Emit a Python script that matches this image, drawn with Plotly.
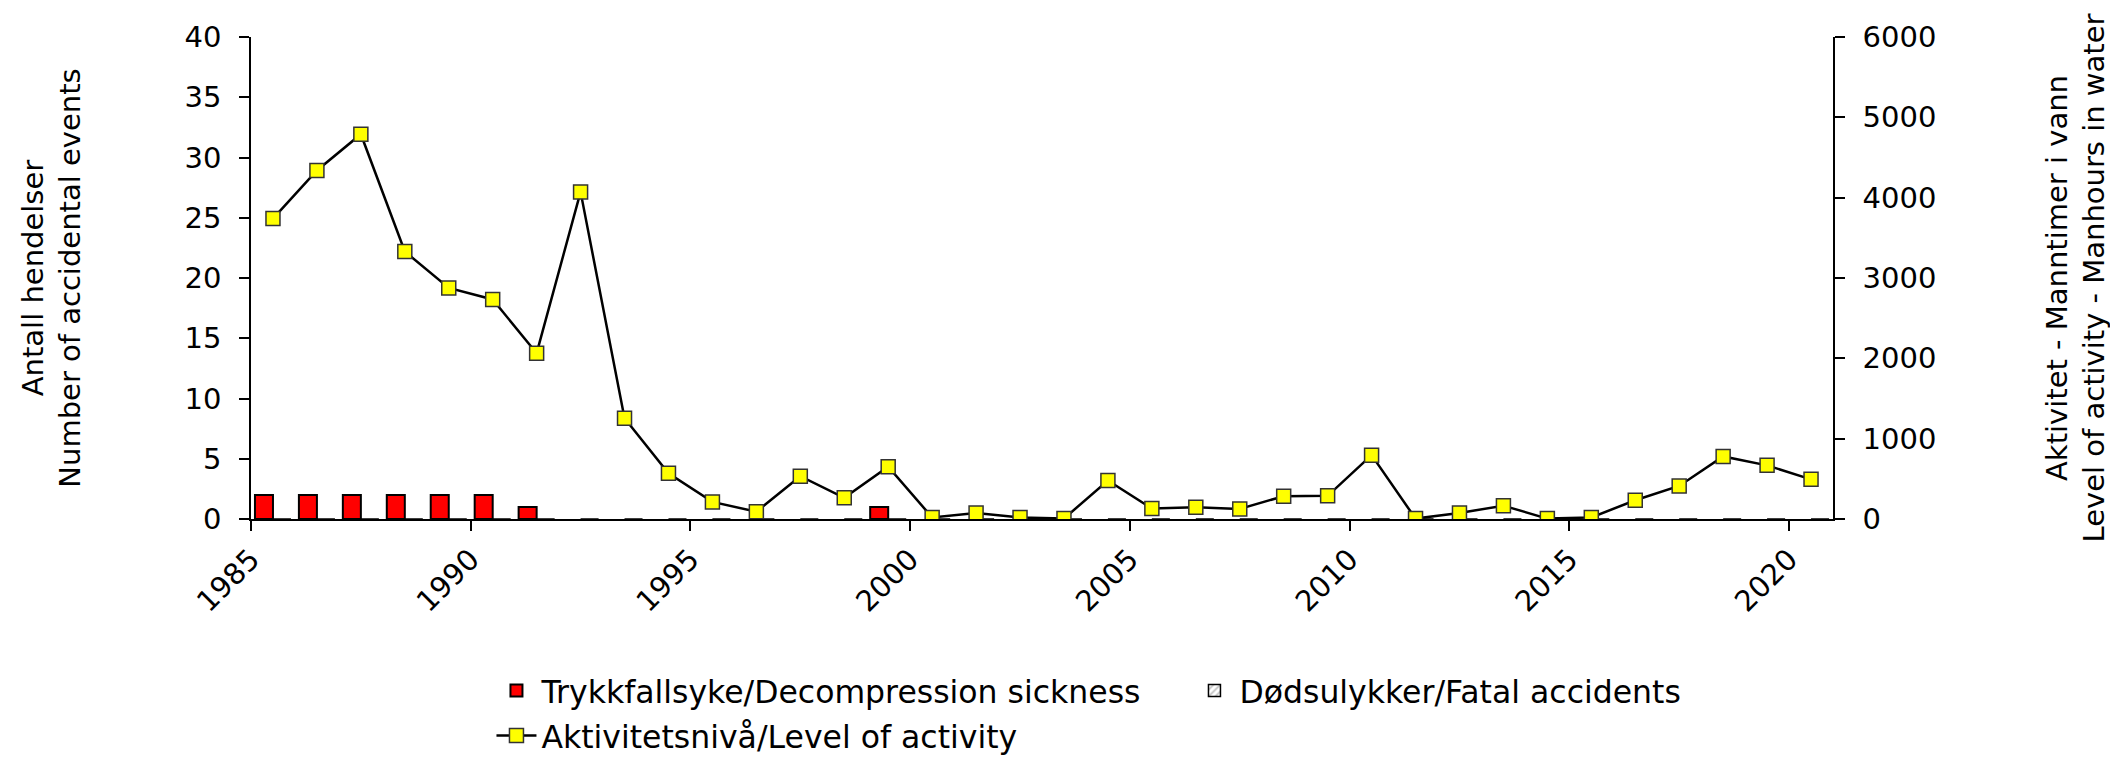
import plotly.graph_objects as go

years = list(range(1985, 2021))
decompression = [2, 2, 2, 2, 2, 2, 1, 0, 0, 0,
                 0, 0, 0, 0, 1, 0, 0, 0, 0, 0,
                 0, 0, 0, 0, 0, 0, 0, 0, 0, 0,
                 0, 0, 0, 0, 0, 0]
fatal = [0] * 36
activity = [3740, 4338, 4790, 3330, 2876, 2733, 2064, 4072, 1255, 570,
            213, 91, 533, 264, 651, 20, 75, 20, 5, 480,
            130, 146, 126, 284, 288, 795, 5, 75, 166, 5,
            20, 233, 411, 779, 668, 494]
xtick_years = [1985, 1990, 1995, 2000, 2005, 2010, 2015, 2020]
left_ticks = [0, 5, 10, 15, 20, 25, 30, 35, 40]
right_ticks = [0, 1000, 2000, 3000, 4000, 5000, 6000]

xc = [y + 0.5 for y in years]  # category centres
FONT = "DejaVu Sans"

fig = go.Figure()
fig.add_trace(go.Bar(
    x=xc, y=decompression, name="Trykkfallsyke/Decompression sickness",
    marker=dict(color="#FF0000",
                line=dict(color="#000000", width=[2 if v > 0 else 0 for v in decompression])),
    yaxis="y", legend="legend",
))
fig.add_trace(go.Bar(
    x=xc, y=fatal, name="Dødsulykker/Fatal accidents",
    marker=dict(color="#FFFFFF", line=dict(color="#000000", width=1.5),
                pattern=dict(shape="/", fgcolor="#808080", bgcolor="#FFFFFF", size=6, solidity=0.35)),
    yaxis="y", legend="legend",
))
fig.add_trace(go.Scatter(
    x=xc, y=activity, name="Aktivitetsnivå/Level of activity",
    mode="lines+markers",
    line=dict(color="#000000", width=2.5),
    marker=dict(symbol="square", size=14, color="#FFFF00", line=dict(color="#333333", width=1.5)),
    yaxis="y2", legend="legend2",
))

axis_common = dict(showgrid=False, zeroline=False, linecolor="#000000", linewidth=1.5,
                   tickcolor="#000000", tickwidth=1.5)
overlay_common = dict(showticklabels=False, showline=False, showgrid=False, zeroline=False,
                      tickcolor="#000000", tickwidth=1.5, ticks="inside", ticklen=10,
                      tickmode="array")

fig.update_layout(
    width=2118, height=766,
    margin=dict(l=243, r=293, t=24, b=237),
    paper_bgcolor="white", plot_bgcolor="white",
    font=dict(family=FONT, size=29, color="#000000"),
    barmode="group", bargap=0.18, bargroupgap=0,
    showlegend=True,
    legend=dict(orientation="h", x=0.152, y=-0.30, xanchor="left", yanchor="top",
                font=dict(family=FONT, size=31.5), entrywidth=643, entrywidthmode="pixels",
                itemwidth=40, traceorder="normal", bgcolor="rgba(0,0,0,0)"),
    legend2=dict(orientation="h", x=0.152, y=-0.393, xanchor="left", yanchor="top",
                 font=dict(family=FONT, size=31.5), itemwidth=40, bgcolor="rgba(0,0,0,0)"),
    xaxis=dict(range=[1985, 2021], tickmode="array", tickvals=xtick_years,
               ticktext=[str(v) for v in xtick_years], tickangle=-45,
               ticks="outside", ticklen=10, showline=True, anchor="y",
               tickfont=dict(size=29), **axis_common),
    xaxis2=dict(range=[1985, 2021], tickvals=xtick_years, overlaying="x", anchor="y",
                **overlay_common),
    yaxis=dict(range=[0, 40], tickmode="array", tickvals=left_ticks,
               ticks="outside", ticklen=10, showline=True, side="left",
               ticklabelstandoff=12,
               title=dict(text="Antall hendelser<br>Number of accidental events",
                          font=dict(size=29), standoff=95),
               tickfont=dict(size=29), **axis_common),
    yaxis2=dict(range=[0, 6000], tickmode="array", tickvals=right_ticks,
                ticks="outside", ticklen=10, showline=True, side="right",
                overlaying="y", anchor="x", ticklabelstandoff=12,
                title=dict(text="Aktivitet - Manntimer i vann<br>Level of activity - Manhours in water",
                           font=dict(size=29), standoff=111),
                tickfont=dict(size=29), **axis_common),
    yaxis3=dict(range=[0, 40], tickvals=left_ticks, overlaying="y", anchor="x", side="left",
                **overlay_common),
    yaxis4=dict(range=[0, 6000], tickvals=right_ticks, overlaying="y", anchor="x", side="right",
                **overlay_common),
)

fig.write_html("out.html")
